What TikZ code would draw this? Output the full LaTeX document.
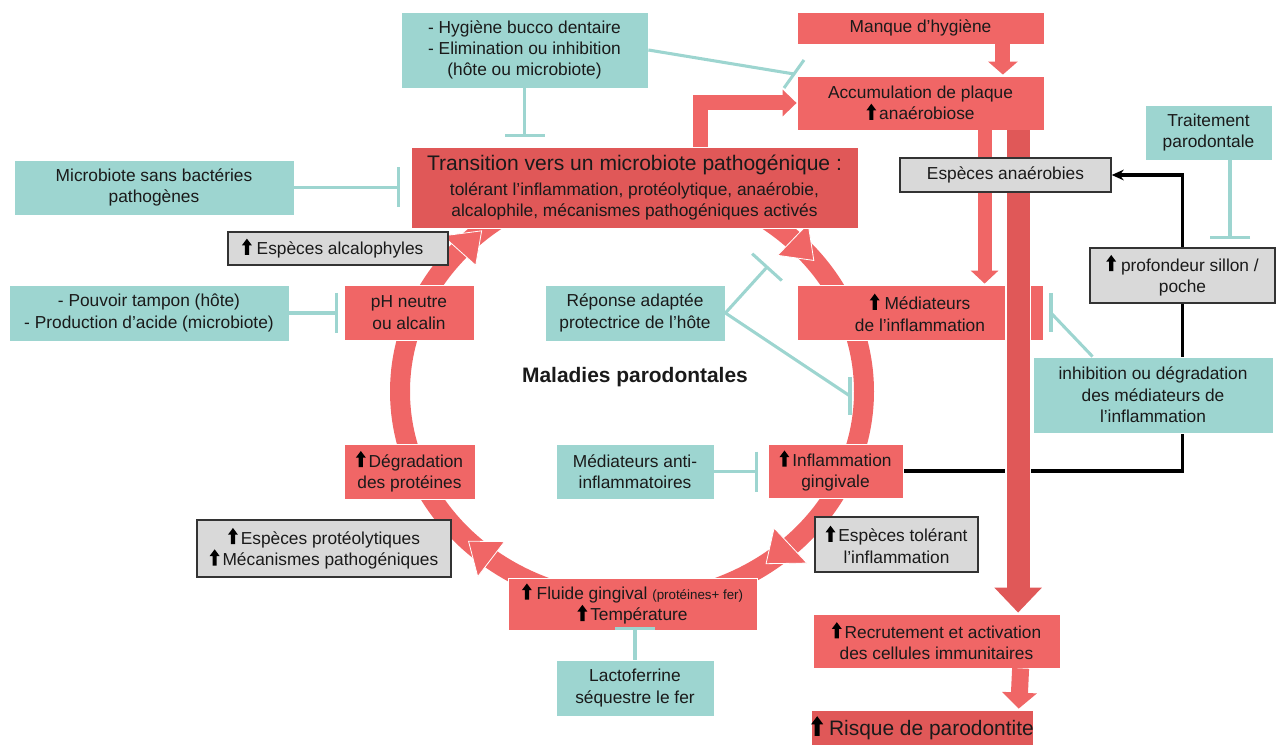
\documentclass[tikz,border=0pt]{standalone}
\usepackage{fontspec}
\setmainfont{Liberation Sans}
\usetikzlibrary{arrows.meta,calc}
\definecolor{redc}{HTML}{F06666}
\definecolor{dred}{HTML}{E05858}
\definecolor{tealc}{HTML}{9DD5D0}
\definecolor{grayc}{HTML}{D9D9D9}
\definecolor{txt}{HTML}{1A1A1A}
\pgfdeclarelayer{bg}
\pgfsetlayers{bg,main}
\newcommand\upa{\tikz[x=0.09em,y=0.09em,baseline=-0.5pt]\fill[black] (-1.35,-0.5) -- (1.35,-0.5) -- (1.35,5.6) -- (3.2,5.6) -- (0,9.9) -- (-3.2,5.6) -- (-1.35,5.6) -- cycle;}
\begin{document}
\begin{tikzpicture}[x=0.75pt,y=-0.75pt,
  every node/.style={text=txt, font=\fontsize{13}{16}\selectfont, align=center, inner sep=0pt},
  sz/.style 2 args={minimum width=#1*0.75pt, minimum height=#2*0.75pt},
  rbox/.style={fill=redc, draw=white, line width=0.6pt},
  dbox/.style={fill=dred, draw=white, line width=0.6pt},
  tbox/.style={fill=tealc, draw=white, line width=0.6pt},
  gbox/.style={fill=grayc, draw=black!80, line width=1.1pt},
  inh/.style={draw=tealc, line width=2.3pt},
  inhT/.style={inh, -{Bar[width=30pt]}},
  ringhead/.style={fill=redc, draw=white, line width=0.6pt}]
\useasboundingbox (0,0) rectangle (1279,745);
\coordinate (C) at (632,391.5);

% boxes
\node[tbox, sz={247}{76}] (hyg) at (524.5,50) {- Hygiène bucco dentaire\\- Elimination ou inhibition\\(hôte ou microbiote)};
\node[rbox, sz={247}{32}] (manque) at (920.5,28) {Manque d’hygiène};
\node[rbox, sz={247}{54}] (acc) at (920.5,103) {Accumulation de plaque\\\upa\,anaérobiose};
\node[dbox, sz={447}{81}] (trans) at (634.5,187.5) {{\fontsize{15.8}{19}\selectfont Transition vers un microbiote pathogénique :}\\[3pt]tolérant l’inflammation, protéolytique, anaérobie,\\alcalophile, mécanismes pathogéniques activés};
\node[tbox, sz={280}{55}] (micro) at (154,187.5) {Microbiote sans bactéries\\pathogènes};
\node[gbox, sz={220}{33}] (alcal) at (338,248.5) {\upa\ Espèces alcalophyles\hspace{8pt}};
\node[rbox, sz={130}{55}] (ph) at (409,312.5) {pH neutre\\ou alcalin};
\node[tbox, sz={280}{56}] (tampon) at (149,313) {- Pouvoir tampon (hôte)\\- Production d’acide (microbiote)};
\node[tbox, sz={180}{56}] (rep) at (635,313) {Réponse adaptée\\protectrice de l’hôte};
\node[rbox, sz={246}{55}] (med) at (920,312.5) {\upa\ Médiateurs\\de l’inflammation};
\node[tbox, sz={240}{76}] (inhib) at (1153,395) {inhibition ou dégradation\\des médiateurs de\\l’inflammation};
\node[gbox, sz={185}{55}] (prof) at (1182.5,275.5) {\upa\ profondeur sillon /\\poche};
\node[tbox, sz={127}{55}] (trait) at (1208.5,132.5) {Traitement\\parodontale};
\node[rbox, sz={135}{54}] (inflam) at (835.5,471) {\upa\,Inflammation\\gingivale};
\node[tbox, sz={158}{55}] (antiinf) at (635,471.5) {Médiateurs anti-\\inflammatoires};
\node[gbox, sz={163}{55}] (tol) at (896.5,544.5) {\upa\,Espèces tolérant\\l’inflammation};
\node[rbox, sz={249}{52}] (fluide) at (632.5,604) {\upa\ Fluide gingival {\fontsize{10}{12}\selectfont (protéines+ fer)}\\\upa\,Température};
\node[tbox, sz={158}{56}] (lacto) at (635,688) {Lactoferrine\\séquestre le fer};
\node[rbox, sz={131}{55}] (degr) at (409.5,471.5) {\upa\,Dégradation\\des protéines};
\node[gbox, sz={254}{57}] (prot) at (324,548.5) {\upa\,Espèces protéolytiques\\\upa\,Mécanismes pathogéniques};
\node[rbox, sz={247}{54}] (recr) at (936.5,641) {\upa\,Recrutement et activation\\des cellules immunitaires};
\node[dbox, sz={219}{36}, font=\fontsize{15.7}{18}\selectfont] (risk) at (922.5,728) {\upa\ Risque de parodontite};
\node[font=\bfseries\fontsize{15.7}{18}\selectfont] (mal) at (635,377) {Maladies parodontales};

% red block arrows
\draw[redc, line width=11.25pt, line join=miter, -{Triangle[length=10.5pt,width=19.5pt]}]
  ($(trans.north west)+(289.5,0)$) |- (acc.west);
\draw[redc, line width=11.25pt, -{Triangle[length=9.75pt,width=21.75pt]}]
  ($(manque.south east)+(-41.5,0)$) -- ($(acc.north east)+(-41.5,-1)$);
\draw[redc, line width=10.5pt, -{Triangle[length=9.75pt,width=20.25pt]}]
  ($(acc.south west)+(188,0)$) -- ($(med.north west)+(188,-1)$);
\draw[white, line width=19.5pt] ($(acc.south west)+(221.5,0.5)$) -- ($(recr.north west)+(205.5,-25)$);
\draw[dred, line width=17.25pt, -{Triangle[length=18.75pt,width=34.5pt]}]
  ($(acc.south west)+(221.5,0)$) -- ($(recr.north west)+(205.5,-1)$);
\draw[redc, line width=12.75pt, -{Triangle[length=12pt,width=25.5pt]}]
  ($(recr.south west)+(208,0)$) -- ($(risk.north west)+(208,-1)$);

\node[gbox, sz={211}{34}] (anaer) at (1005.5,175) {Espèces anaérobies};

% inhibitor connectors
\draw[inhT] (hyg.south) -- ($(hyg.south |- trans.north)+(0,-10)$);
\coordinate (bB) at (794,74);
\draw[inh] (hyg.east) -- (bB);
\draw[inh] ($(bB)+(-10,14)$) -- ($(bB)+(10,-14)$);
\draw[inhT] (micro.east) -- ($(micro.east -| trans.west)+(-11,0)$);
\draw[inhT] (tampon.east) -- ($(tampon.east -| ph.west)+(-6,0)$);
\coordinate (bE1) at (768,266);
\draw[inhT] (rep.east) -- (bE1);
\coordinate (bE2) at (850,396);
\draw[inh] (rep.east) -- (bE2);
\draw[inh] ($(bE2)+(0,-19)$) -- ($(bE2)+(0,19)$);
\coordinate (bF) at (1051,313);
\draw[inh] ($(inhib.north west)+(60,0)$) -- (bF);
\draw[inh] ($(bF)+(0,-20)$) -- ($(bF)+(0,19)$);
\draw[inhT] ($(trait.south)+(21.5,0)$) -- ($(trait.south |- prof.north)+(21.5,-8)$);
\draw[inhT] (antiinf.east) -- ($(antiinf.east -| inflam.west)+(-10,0)$);
\draw[inhT] (lacto.north) -- ($(lacto.north |- fluide.south)+(0,-3)$);

\begin{pgfonlayer}{bg}
  % ring
  \draw[redc, line width=15pt] (C) ellipse [x radius=232, y radius=211];
  \filldraw[ringhead] ($(C)+(221.9:210 and 189)$) -- ($(C)+(221.9:254 and 233)$) -- ($(C)+(229.6:232 and 211)$) -- cycle;
  \filldraw[ringhead] ($(C)+(313.9:210 and 189)$) -- ($(C)+(313.9:254 and 233)$) -- ($(C)+(321.6:232 and 211)$) -- cycle;
  \filldraw[ringhead] ($(C)+(46.9:208 and 187)$) -- ($(C)+(46.9:256 and 235)$) -- ($(C)+(54.7:232 and 211)$) -- cycle;
  \filldraw[ringhead] ($(C)+(127.4:210 and 189)$) -- ($(C)+(127.4:254 and 233)$) -- ($(C)+(134.8:232 and 211)$) -- cycle;
  % black feedback line
  \draw[black, line width=2.3pt, -{Stealth[length=9pt,width=8pt]}]
    (inflam.east) -- ($(inflam.east)+(279.5,0)$) |- (anaer.east);
\end{pgfonlayer}
\end{tikzpicture}
\end{document}
